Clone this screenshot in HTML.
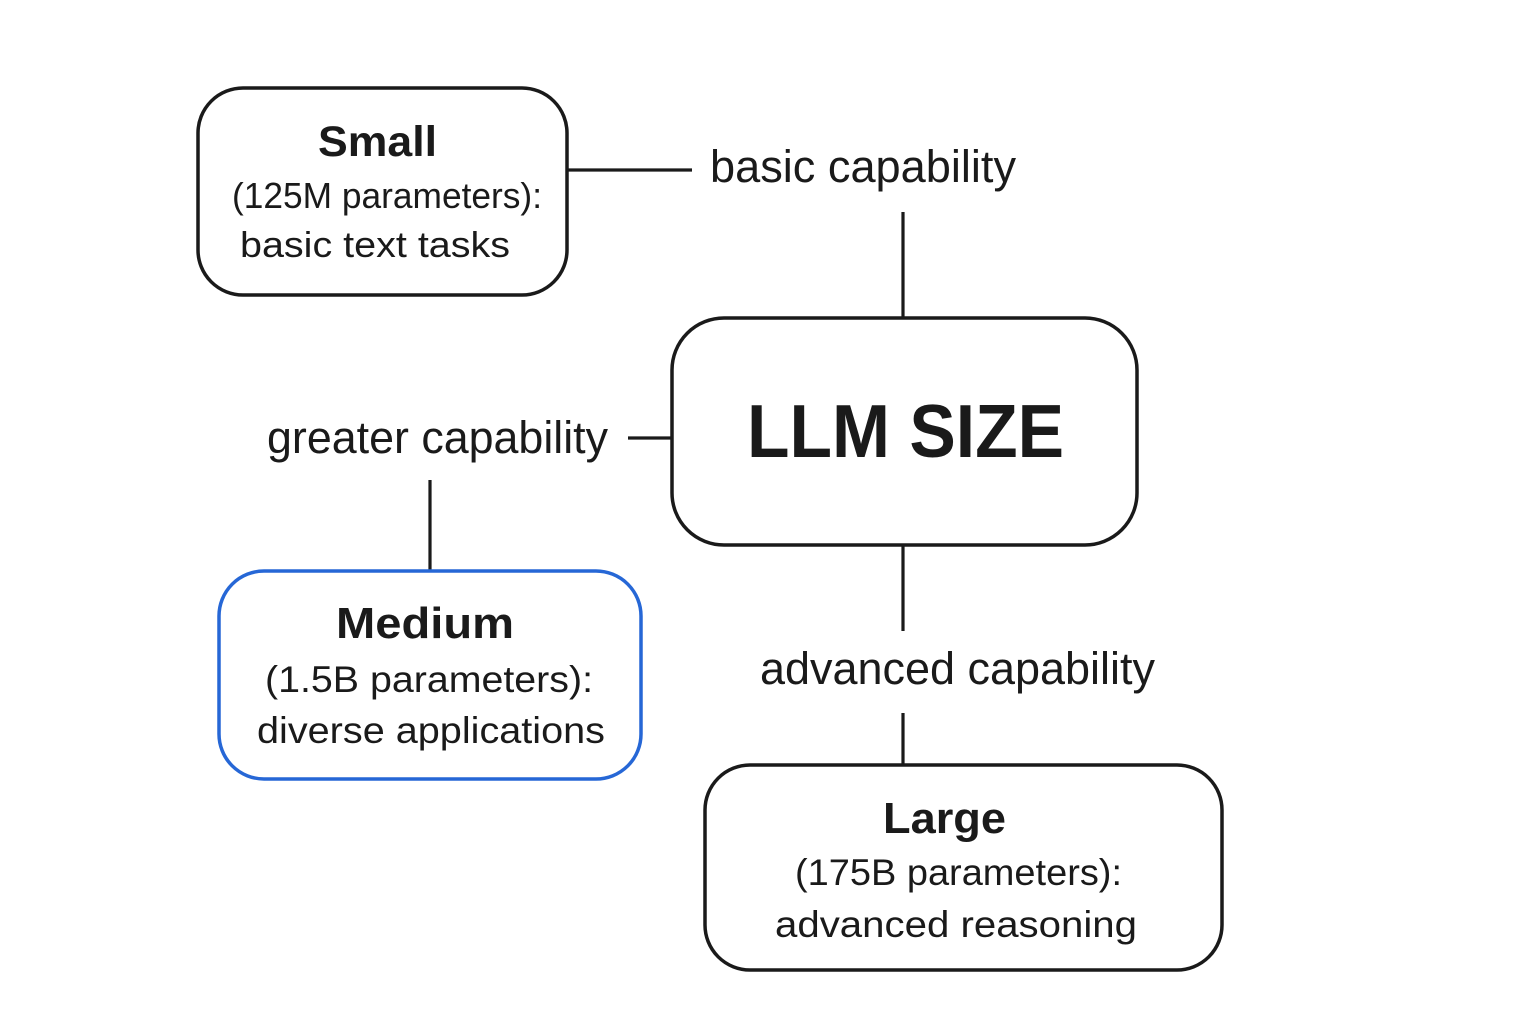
<!DOCTYPE html>
<html>
<head>
<meta charset="utf-8">
<style>
  html, body { margin: 0; padding: 0; background: #ffffff; }
  body { width: 1536px; height: 1024px; overflow: hidden; }
  svg { display: block; }
  text { font-family: "Liberation Sans", "DejaVu Sans", sans-serif; fill: #1a1a1a; }
  .b { font-weight: bold; }
</style>
</head>
<body>
<svg width="1536" height="1024" viewBox="0 0 1536 1024" xmlns="http://www.w3.org/2000/svg">
  <rect x="0" y="0" width="1536" height="1024" fill="#ffffff"/>

  <!-- connectors -->
  <g stroke="#1a1a1a" stroke-width="3.2" fill="none">
    <line x1="566" y1="170" x2="692" y2="170"/>
    <line x1="903" y1="212" x2="903" y2="318"/>
    <line x1="628" y1="438" x2="672" y2="438"/>
    <line x1="430" y1="480" x2="430" y2="571"/>
    <line x1="903" y1="545" x2="903" y2="631"/>
    <line x1="903" y1="713" x2="903" y2="765"/>
  </g>

  <!-- boxes -->
  <rect x="198" y="88" width="369" height="207" rx="45" ry="45" fill="#fff" stroke="#1a1a1a" stroke-width="3.5"/>
  <rect x="672" y="318" width="465" height="227" rx="52" ry="52" fill="#fff" stroke="#1a1a1a" stroke-width="3.5"/>
  <rect x="219" y="571" width="422" height="208" rx="45" ry="45" fill="#fff" stroke="#2667d6" stroke-width="3.5"/>
  <rect x="705" y="765" width="517" height="205" rx="45" ry="45" fill="#fff" stroke="#1a1a1a" stroke-width="3.5"/>

  <!-- Small -->
  <text class="b" x="318" y="156" font-size="43" textLength="119" lengthAdjust="spacingAndGlyphs">Small</text>
  <text x="232" y="208" font-size="36" textLength="310" lengthAdjust="spacingAndGlyphs">(125M parameters):</text>
  <text x="240" y="257" font-size="36" textLength="270" lengthAdjust="spacingAndGlyphs">basic text tasks</text>

  <!-- labels -->
  <text x="710" y="182" font-size="45" textLength="306" lengthAdjust="spacingAndGlyphs">basic capability</text>
  <text x="267" y="453" font-size="45" textLength="341" lengthAdjust="spacingAndGlyphs">greater capability</text>
  <text x="760" y="684" font-size="45" textLength="395" lengthAdjust="spacingAndGlyphs">advanced capability</text>

  <!-- LLM SIZE -->
  <text class="b" x="747" y="457" font-size="75" textLength="317" lengthAdjust="spacingAndGlyphs">LLM SIZE</text>

  <!-- Medium -->
  <text class="b" x="336" y="638" font-size="44" textLength="178" lengthAdjust="spacingAndGlyphs">Medium</text>
  <text x="265" y="692" font-size="37" textLength="328" lengthAdjust="spacingAndGlyphs">(1.5B parameters):</text>
  <text x="257" y="743" font-size="37" textLength="348" lengthAdjust="spacingAndGlyphs">diverse applications</text>

  <!-- Large -->
  <text class="b" x="883" y="833" font-size="44" textLength="123" lengthAdjust="spacingAndGlyphs">Large</text>
  <text x="795" y="885" font-size="37" textLength="327" lengthAdjust="spacingAndGlyphs">(175B parameters):</text>
  <text x="775" y="937" font-size="37" textLength="362" lengthAdjust="spacingAndGlyphs">advanced reasoning</text>
</svg>
</body>
</html>
